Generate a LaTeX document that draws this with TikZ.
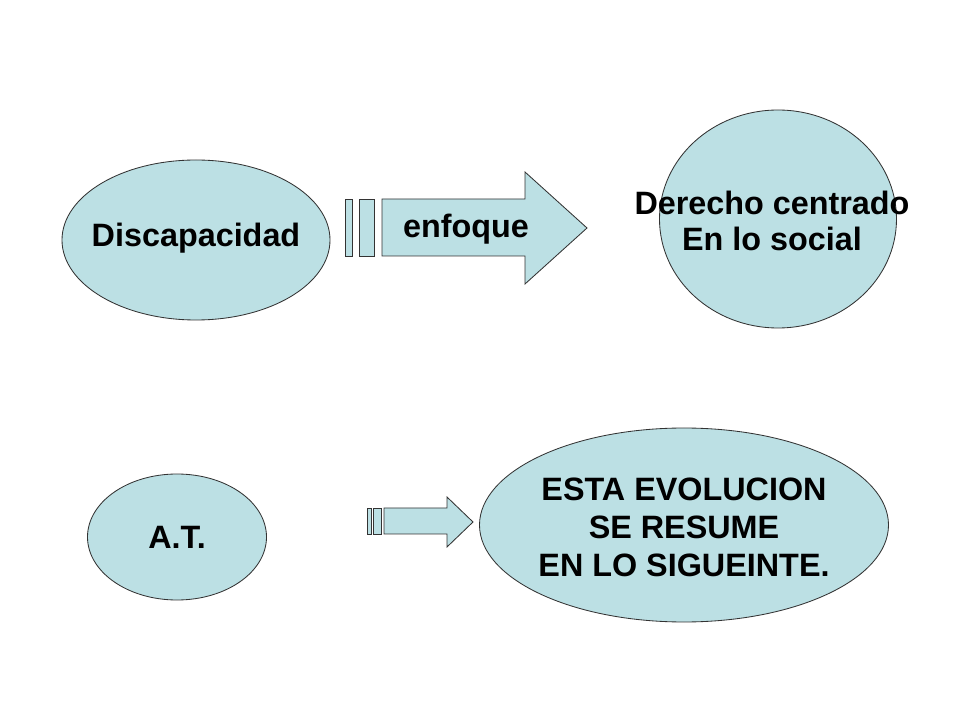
\documentclass[tikz,border=0pt]{standalone}
\usepackage{fontspec}
\setmainfont{Liberation Sans}
\usetikzlibrary{shapes.geometric}
\definecolor{celeste}{RGB}{188,224,228}
\def\pxu{0.025cm}
\tikzset{
  blob/.style={ellipse,draw=black!80,fill=celeste,line width=0.6pt,inner sep=0pt},
  txt/.style={font=\fontsize{23}{26}\selectfont\bfseries,align=center},
  flecha/.style={draw=black!80,fill=celeste,line width=0.6pt,line join=miter}
}
\begin{document}
\begin{tikzpicture}[x=0.025cm,y=-0.025cm]
\useasboundingbox (0,0) rectangle (960,720);
% ellipses
\node[blob,minimum width=268*\pxu,minimum height=160*\pxu] (disc) at (196,240) {};
\node[blob,minimum width=237*\pxu,minimum height=218*\pxu] (dere) at (778,219) {};
\node[blob,minimum width=179*\pxu,minimum height=126*\pxu] (at) at (177,537) {};
\node[blob,minimum width=409*\pxu,minimum height=194*\pxu] (evol) at (684,525) {};
% texts
\node[txt] (tdisc) at (196,238) {Discapacidad};
\node[txt] (tdere) at (772,221) {Derecho centrado\\En lo social};
\node[txt] (tat) at (177,537) {A.T.};
\node[txt,font=\fontsize{23}{27}\selectfont\bfseries] (tevol) at (684,527) {ESTA EVOLUCION\\SE RESUME\\EN LO SIGUEINTE.};
% top arrow
\draw[flecha] (345,199) rectangle (352.5,256);
\draw[flecha] (359,199) rectangle (374,256);
\draw[flecha] (382,199) -- (525,199) -- (525,172) -- (587,228) -- (525,284) -- (525,256) -- (382,256) -- cycle;
\node[txt] (enf) at (466,229) {enfoque};
% bottom arrow
\draw[flecha] (367,508) rectangle (371,534);
\draw[flecha] (373,508) rectangle (381,534);
\draw[flecha] (384,508) -- (447,508) -- (447,497) -- (473,522) -- (447,547) -- (447,534) -- (384,534) -- cycle;
\end{tikzpicture}
\end{document}
